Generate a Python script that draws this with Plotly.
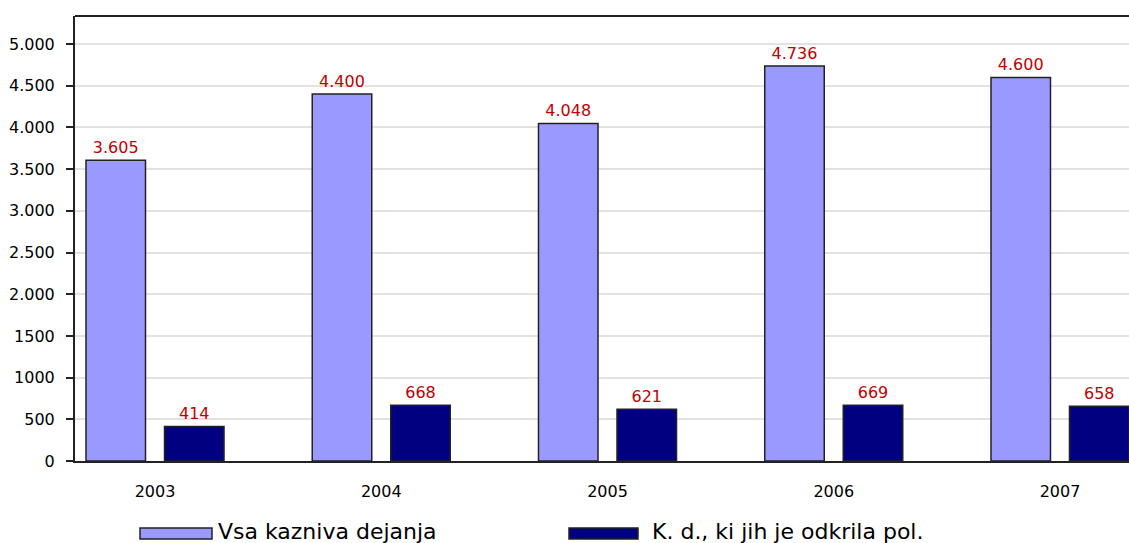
import plotly.graph_objects as go

years = ["2003", "2004", "2005", "2006", "2007"]
all_offences = [3605, 4400, 4048, 4736, 4600]
police_found = [414, 668, 621, 669, 658]
all_labels = ["3.605", "4.400", "4.048", "4.736", "4.600"]
police_labels = ["414", "668", "621", "669", "658"]
series_names = ["Vsa kazniva dejanja", "K. d., ki jih je odkrila pol."]
ytick_vals = [0, 500, 1000, 1500, 2000, 2500, 3000, 3500, 4000, 4500, 5000]
ytick_text = ["0", "500", "1000", "1500", "2.000", "2.500", "3.000", "3.500", "4.000", "4.500", "5.000"]

light = "#9999ff"
dark = "#000080"
red = "#c00000"
font = "DejaVu Sans"

xpos = list(range(len(years)))

fig = go.Figure()
fig.add_trace(go.Bar(
    x=xpos, y=all_offences, name=series_names[0],
    marker=dict(color=light, line=dict(color="#222222", width=1.5)),
    text=all_labels, textposition="outside", cliponaxis=False,
    textfont=dict(color=red, size=16, family=font),
))
fig.add_trace(go.Bar(
    x=xpos, y=police_found, name=series_names[1],
    marker=dict(color=dark, line=dict(color="#222222", width=1.5)),
    text=police_labels, textposition="outside", cliponaxis=False,
    textfont=dict(color=red, size=16, family=font),
))

fig.update_layout(
    width=1129, height=543,
    margin=dict(l=75, r=0, t=16, b=82),
    paper_bgcolor="white", plot_bgcolor="white",
    barmode="group", bargap=0.306, bargroupgap=0.242,
    showlegend=False,
    font=dict(family=font, size=16, color="black"),
)
fig.update_xaxes(
    range=[-0.3536, 4.305],
    tickvals=xpos, ticktext=years,
    showgrid=False, showline=True, linecolor="#222222", linewidth=2,
    ticks="", ticklabelstandoff=15,
    tickfont=dict(size=16, family=font, color="black"),
    zeroline=False,
)
fig.update_yaxes(
    range=[0, 5336],
    tickvals=ytick_vals, ticktext=ytick_text,
    showgrid=True, gridcolor="#e2e2e2", gridwidth=2,
    showline=True, linecolor="#222222", linewidth=2,
    ticks="outside", ticklen=7, tickcolor="#222222", tickwidth=2,
    ticklabelstandoff=8,
    tickfont=dict(size=16, family=font, color="black"),
    zeroline=False,
)
# top border of plot area
fig.add_shape(type="line", xref="paper", yref="paper", x0=0, x1=1, y0=1, y1=1,
              line=dict(color="#222222", width=2))

# custom legend below plot
legend_items = [(series_names[0], light, 140, 212, 218), (series_names[1], dark, 569, 638, 652)]
for name, color, x0px, x1px, txpx in legend_items:
    fig.add_shape(type="rect", xref="paper", yref="paper",
                  x0=(x0px - 75) / 1054, x1=(x1px - 75) / 1054,
                  y0=-(539 - 461) / 445, y1=-(528 - 461) / 445,
                  fillcolor=color, line=dict(color="#222222", width=1.5))
    fig.add_annotation(xref="paper", yref="paper",
                       x=(txpx - 2 - 75) / 1054, y=-(531 - 461) / 445,
                       text=name, showarrow=False, xanchor="left", yanchor="middle",
                       font=dict(size=22, family=font, color="black"))

fig.write_html(
    "out.html",
    config={"displayModeBar": False},
    post_script="document.body.style.margin='0';document.body.style.overflow='hidden';",
)
